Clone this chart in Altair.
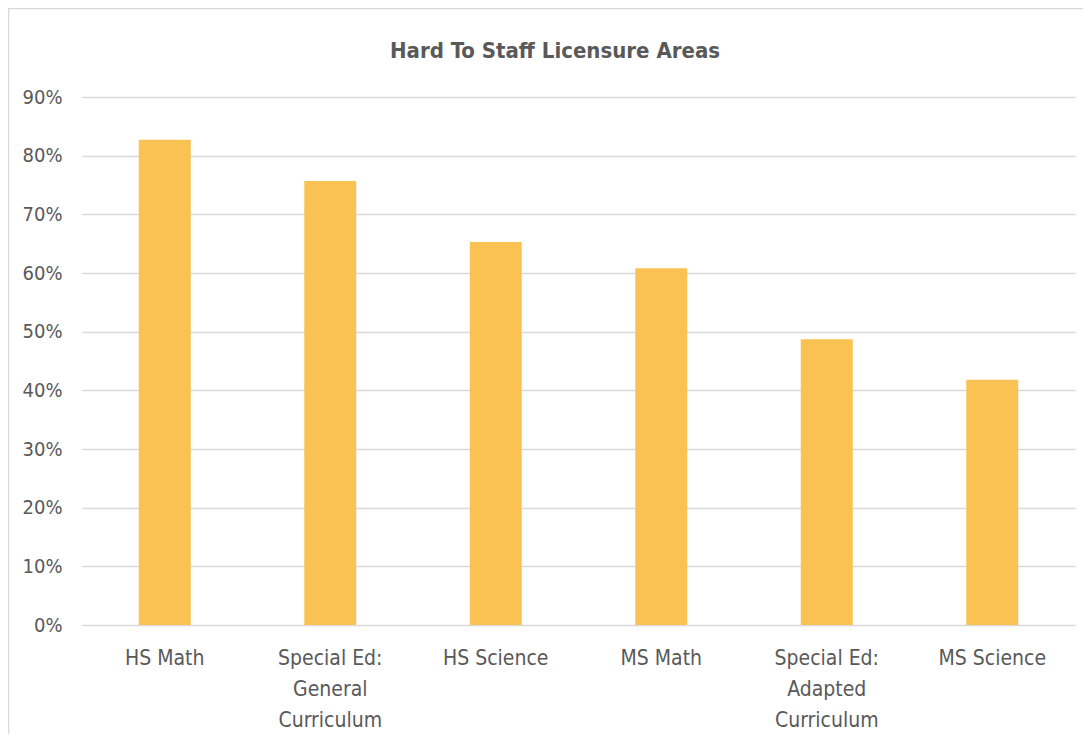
import altair as alt
import pandas as pd

categories = ["HS Math", "Special Ed: General Curriculum", "HS Science", "MS Math",
              "Special Ed: Adapted Curriculum", "MS Science"]
label_lines = [["HS Math"], ["Special Ed:", "General", "Curriculum"], ["HS Science"],
               ["MS Math"], ["Special Ed:", "Adapted", "Curriculum"], ["MS Science"]]
values = [0.827, 0.757, 0.653, 0.608, 0.487, 0.418]
y_ticks = [0, 0.1, 0.2, 0.3, 0.4, 0.5, 0.6, 0.7, 0.8, 0.9]
title_text = ["Hard To Staff Licensure Areas"]

df = pd.DataFrame({"area": categories, "share": values})

FONT = "DejaVu Sans Condensed"
GRAY = "#595959"

expr = ""
for c, lines in zip(categories, label_lines):
    arr = "[" + ",".join("'" + l + "'" for l in lines) + "]"
    expr += f"datum.label == '{c}' ? {arr} : "
expr += "datum.label"

bars = alt.Chart(df).mark_bar(color="#F9C253").encode(
    x=alt.X("area:N", sort=categories, title=None,
            scale=alt.Scale(paddingInner=0.686, paddingOuter=0.343),
            axis=alt.Axis(labelAngle=0, labelExpr=expr, labelFont=FONT, labelFontSize=21,
                          labelColor=GRAY, labelLineHeight=31, labelPadding=33,
                          ticks=False, domain=False, grid=False, labelBaseline="middle")),
    y=alt.Y("share:Q", title=None,
            scale=alt.Scale(domain=[0, 0.9], nice=False),
            axis=alt.Axis(values=y_ticks, format=".0%", labelFont=FONT, labelFontSize=20,
                          labelColor=GRAY, labelPadding=20, ticks=False, domain=False,
                          gridColor="#D9D9D9", gridWidth=1.5)),
)

border = alt.Chart(pd.DataFrame({"a": [0]})).mark_rect(
    fill=None, stroke="#D9D9D9", strokeWidth=1.5
).encode(x=alt.value(-73.5), x2=alt.value(1100), y=alt.value(-88.5), y2=alt.value(700))

title = alt.Chart(pd.DataFrame({"t": title_text})).mark_text(
    font=FONT, fontSize=22, fontWeight="bold", color=GRAY, baseline="alphabetic"
).encode(text="t:N", x=alt.value(473), y=alt.value(-39))

chart = (border + bars + title).properties(
    width=993, height=528,
    padding={"left": 74, "top": 89, "right": 8, "bottom": 109},
    autosize=alt.AutoSizeParams(type="none"),
).configure_view(stroke=None)

chart.save("out.html", embed_options={"renderer": "svg", "actions": False})
